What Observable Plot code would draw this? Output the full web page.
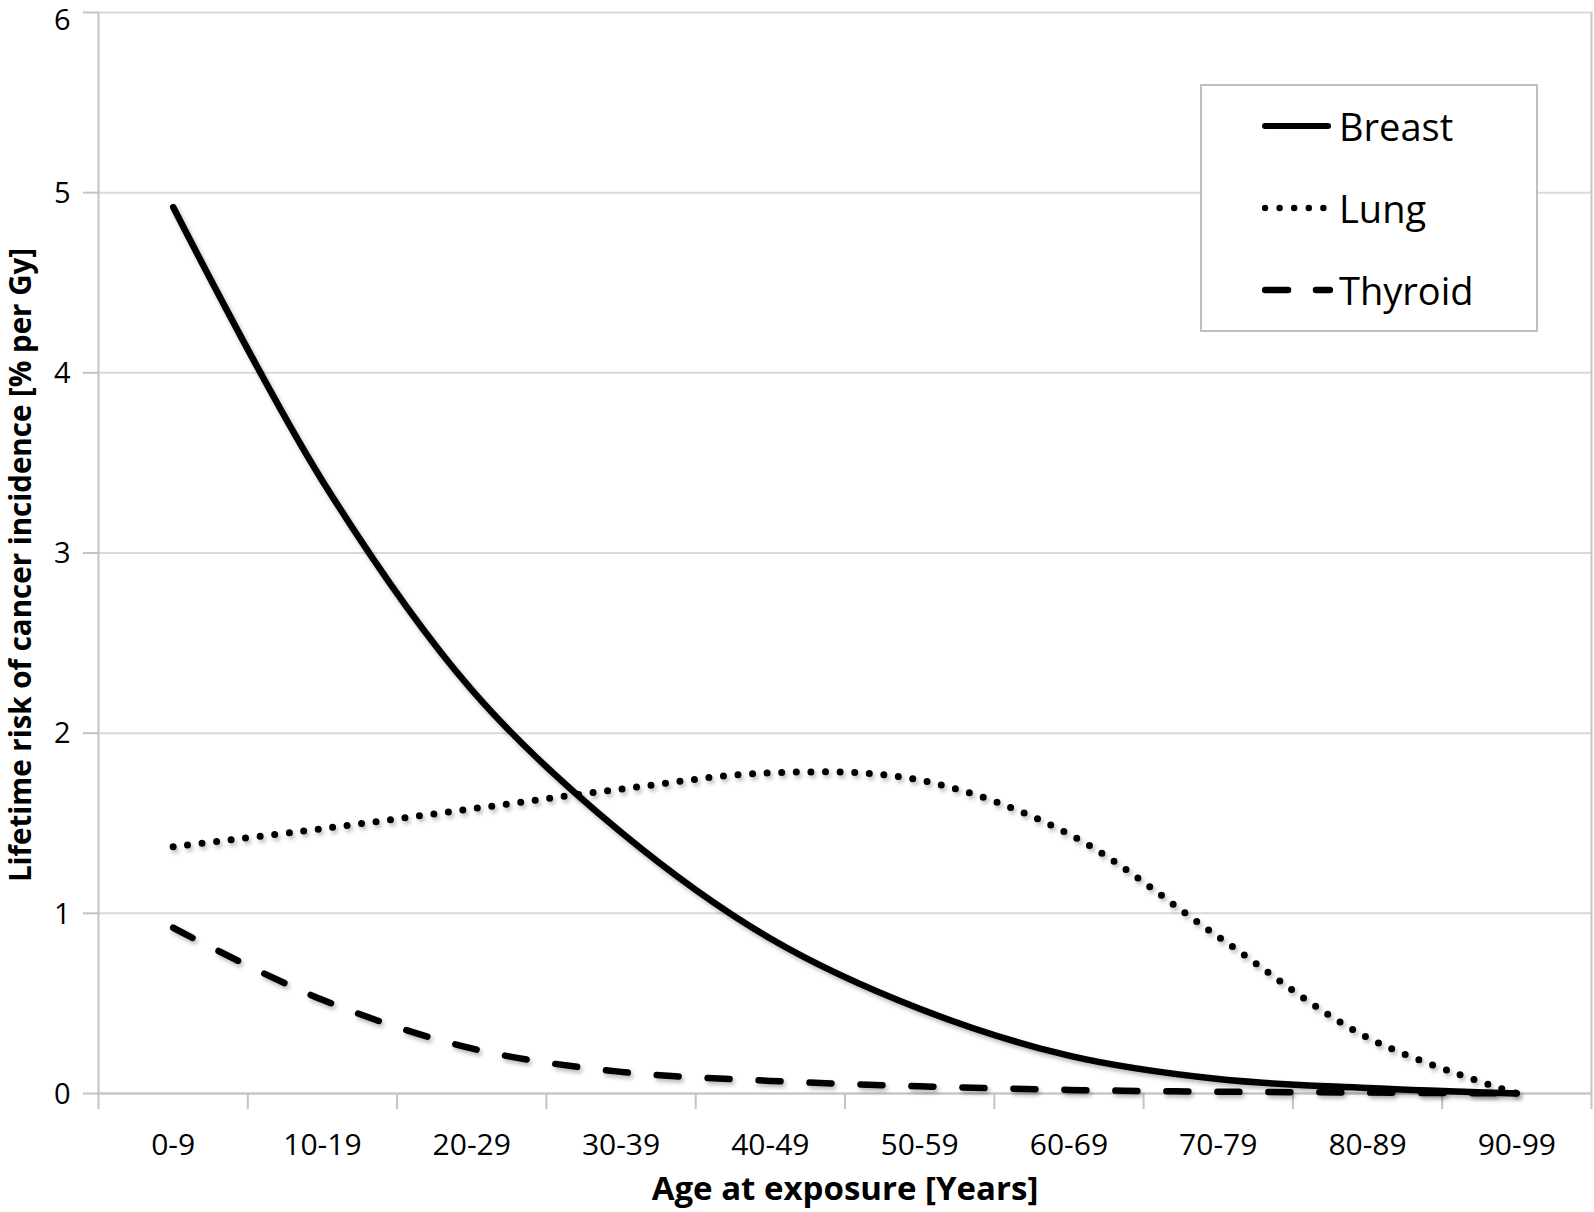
<!DOCTYPE html>
<html>
<head>
<meta charset="utf-8">
<script src="https://cdn.jsdelivr.net/npm/d3@7"></script>
<script src="https://cdn.jsdelivr.net/npm/@observablehq/plot@0.6"></script>
<style>
  html, body { margin: 0; padding: 0; background: #fff; }
  #wrap { position: relative; width: 1594px; height: 1212px; font-family: "Open Sans", sans-serif; }
  #wrap g[aria-label="line"] path { filter: drop-shadow(2px 3px 2px rgba(0,0,0,0.28)); }
  #legend { position: absolute; left: 1200px; top: 84px; width: 334px; height: 244px;
            border: 2px solid #bfbfbf; background: #fff; box-sizing: content-box; }
  .row { position: absolute; left: 60px; height: 50px; display: flex; align-items: center; }
  .row span { font-size: 38px; color: #000; margin-left: 6px; line-height: 1; }
</style>
</head>
<body>
<div id="wrap"></div>
<script>
const categories = ["0-9", "10-19", "20-29", "30-39", "40-49", "50-59", "60-69", "70-79", "80-89", "90-99"];
const breast  = [4.92, 3.40, 2.24, 1.45, 0.86, 0.47, 0.21, 0.08, 0.03, 0.0];
const lung    = [1.37, 1.47, 1.58, 1.69, 1.78, 1.74, 1.44, 0.87, 0.31, 0.0];
const thyroid = [0.92, 0.52, 0.25, 0.12, 0.07, 0.04, 0.02, 0.01, 0.005, 0.0];
const yTicks = [0, 1, 2, 3, 4, 5, 6];
const seriesNames = ["Breast", "Lung", "Thyroid"];
const xTitle = "Age at exposure [Years]";
const yTitle = "Lifetime risk of cancer incidence [% per Gy]";

const styles = {
  Breast:  {strokeWidth: 6.5, strokeDasharray: null, strokeLinecap: "round"},
  Lung:    {strokeWidth: 7, strokeDasharray: "0 14.6", strokeLinecap: "round"},
  Thyroid: {strokeWidth: 6.5, strokeDasharray: "22 29", strokeLinecap: "round"}
};
const values = {Breast: breast, Lung: lung, Thyroid: thyroid};

const rows = [];
for (const s of seriesNames) {
  values[s].forEach((v, i) => rows.push({series: s, cat: categories[i], idx: i, value: v}));
}

const lineMarks = seriesNames.map(s => Plot.line(rows.filter(r => r.series === s), {
  x: d => d.idx + 0.5,
  y: "value",
  curve: "catmull-rom",
  stroke: "black",
  ...Object.fromEntries(Object.entries(styles[s]).filter(([k, v]) => v != null))
}));

const yMax = d3.max(yTicks);

const chart = Plot.plot({
  width: 1594,
  height: 1212,
  marginLeft: 98,
  marginRight: 3,
  marginTop: 12,
  marginBottom: 119,
  x: {type: "linear", domain: [0, categories.length]},
  y: {type: "linear", domain: [0, yMax]},
  style: {fontFamily: "'Open Sans', sans-serif", background: "white", color: "black", overflow: "visible"},
  marks: [
    Plot.gridY(yTicks, {stroke: "#d9d9d9", strokeOpacity: 1, strokeWidth: 2}),
    Plot.ruleX([0, categories.length], {stroke: "#c4c4c4", strokeWidth: 2}),
    Plot.ruleY([0], {stroke: "#c4c4c4", strokeWidth: 2}),
    Plot.axisY(yTicks, {tickSize: 15, tickFormat: () => "", stroke: "#c4c4c4", strokeWidth: 2, strokeOpacity: 1, label: null}),
    Plot.axisY(yTicks.filter(t => t < yMax), {tickSize: 0, tickPadding: 28, fontSize: 29, dy: 1, tickFormat: d => String(d), fill: "black", label: null}),
    Plot.axisY(yTicks.filter(t => t === yMax), {tickSize: 0, tickPadding: 28, fontSize: 29, dy: 8, tickFormat: d => String(d), fill: "black", label: null}),
    Plot.axisX(d3.range(categories.length + 1), {tickSize: 16, tickFormat: () => "", stroke: "#c4c4c4", strokeWidth: 2, strokeOpacity: 1, label: null}),
    Plot.axisX(categories.map((_, i) => i + 0.5), {tickSize: 0, tickPadding: 40, tickFormat: d => categories[Math.floor(d)], fontSize: 30, fill: "black", label: null}),
    ...lineMarks,
    Plot.text([xTitle], {frameAnchor: "bottom", dy: 96, lineAnchor: "middle", textAnchor: "middle", fontWeight: "bold", fontSize: 33, fill: "black"}),
    Plot.text([yTitle], {frameAnchor: "left", dx: -77, dy: 12, rotate: -90, lineAnchor: "middle", textAnchor: "middle", fontWeight: "bold", fontSize: 29.5, fill: "black"})
  ]
});

const wrap = document.getElementById("wrap");
wrap.appendChild(chart);

// Legend (inside plot area, top right)
const legend = document.createElement("div");
legend.id = "legend";
const sampleSvg = {
  Breast:  `<line x1="3" y1="10" x2="66" y2="10" stroke="black" stroke-width="6" stroke-linecap="round"/>`,
  Lung:    `<line x1="3" y1="10" x2="64" y2="10" stroke="black" stroke-width="6.5" stroke-linecap="round" stroke-dasharray="0 14.6"/>`,
  Thyroid: `<line x1="3" y1="10" x2="26" y2="10" stroke="black" stroke-width="6.5" stroke-linecap="round"/><line x1="54" y1="10" x2="68" y2="10" stroke="black" stroke-width="6.5" stroke-linecap="round"/>`
};
seriesNames.forEach((s, i) => {
  const row = document.createElement("div");
  row.className = "row";
  row.style.top = (15 + i * 82) + "px";
  row.innerHTML = `<svg width="71" height="20">${sampleSvg[s]}</svg><span>${s}</span>`;
  legend.appendChild(row);
});
wrap.appendChild(legend);
</script>
</body>
</html>
